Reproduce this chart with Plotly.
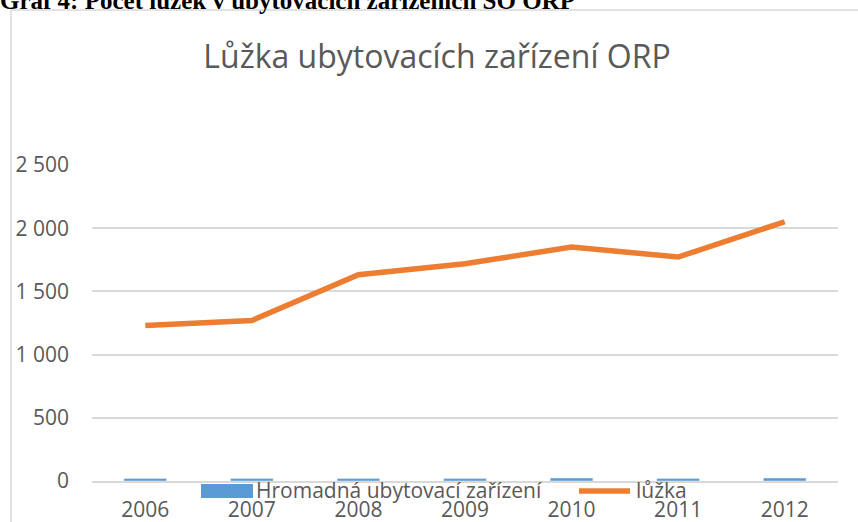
import plotly.graph_objects as go

years = ["2006", "2007", "2008", "2009", "2010", "2011", "2012"]
hromadna = [20, 20, 19, 19, 23, 20, 23]
luzka = [1231, 1270, 1632, 1719, 1851, 1772, 2051]

title_text = "Lůžka ubytovacích zařízení ORP"
caption_text = "Graf 4: Počet lůžek v ubytovacích zařízeních SO ORP"
bar_name = "Hromadná ubytovací zařízení"
line_name = "lůžka"

W, H = 858, 522
L, R, T, B = 92, 838, 165, 481


def px(x):
    return (x - L) / (R - L)


def py(y):
    return (B - y) / (B - T)


FONT = "Open Sans"
GREY = "#595959"
BLUE = "#5B9BD5"
ORANGE = "#ED7D31"

fig = go.Figure()
fig.add_trace(go.Bar(x=years, y=hromadna, name=bar_name, marker_color=BLUE,
                     width=0.4, showlegend=False))
fig.add_trace(go.Scatter(x=years, y=luzka, name=line_name, mode="lines",
                         line=dict(color=ORANGE, width=5.5), showlegend=False))

shapes = [
    # chart border
    dict(type="rect", xref="paper", yref="paper", x0=px(11), x1=px(900),
         y0=py(560), y1=py(10), line=dict(color="#D9D9D9", width=1.5),
         fillcolor="rgba(0,0,0,0)", layer="below"),
    # legend symbols
    dict(type="rect", xref="paper", yref="paper", x0=px(201), x1=px(253),
         y0=py(498), y1=py(484), line=dict(width=0), fillcolor=BLUE),
    dict(type="line", xref="paper", yref="paper", x0=px(579), x1=px(630),
         y0=py(491), y1=py(491), line=dict(color=ORANGE, width=5.5)),
]

annotations = [
    dict(text=bar_name, xref="paper", yref="paper", x=px(254), y=py(490),
         xanchor="left", yanchor="middle", showarrow=False,
         font=dict(family=FONT, size=21, color=GREY)),
    dict(text=line_name, xref="paper", yref="paper", x=px(634), y=py(490),
         xanchor="left", yanchor="middle", showarrow=False,
         font=dict(family=FONT, size=21, color=GREY)),
    dict(text="<b>" + caption_text + "</b>", xref="paper", yref="paper",
         x=px(-2), y=py(16), xanchor="left", yanchor="bottom", showarrow=False,
         font=dict(family="Liberation Serif", size=25, color="#000000")),
]

fig.update_layout(
    width=W, height=H,
    margin=dict(l=L, r=W - R, t=T, b=H - B, autoexpand=False),
    paper_bgcolor="white", plot_bgcolor="white",
    separators=", ",
    title=dict(text=title_text, x=437 / W, xref="container", xanchor="center",
               y=1 - 57 / H, yref="container", yanchor="middle",
               font=dict(family=FONT, size=32, color=GREY)),
    shapes=shapes,
    annotations=annotations,
    showlegend=False,
    bargap=0.6,
)
fig.update_xaxes(type="category", showgrid=False, showline=True,
                 linecolor="#D9D9D9", linewidth=1.5, ticks="",
                 tickfont=dict(family=FONT, size=21, color=GREY),
                 ticklabelstandoff=9, automargin=False)
fig.update_yaxes(range=[0, 2500], tickvals=[0, 500, 1000, 1500, 2000, 2500],
                 tickformat=",d", showgrid=True, gridcolor="#D9D9D9",
                 gridwidth=1.5, zeroline=False, showline=False, ticks="",
                 tickfont=dict(family=FONT, size=21, color=GREY),
                 ticklabelstandoff=22, automargin=False)

fig.write_html("out.html",
               config={"displayModeBar": False},
               post_script="document.body.style.margin='0';"
                           "document.body.style.overflow='hidden';")
